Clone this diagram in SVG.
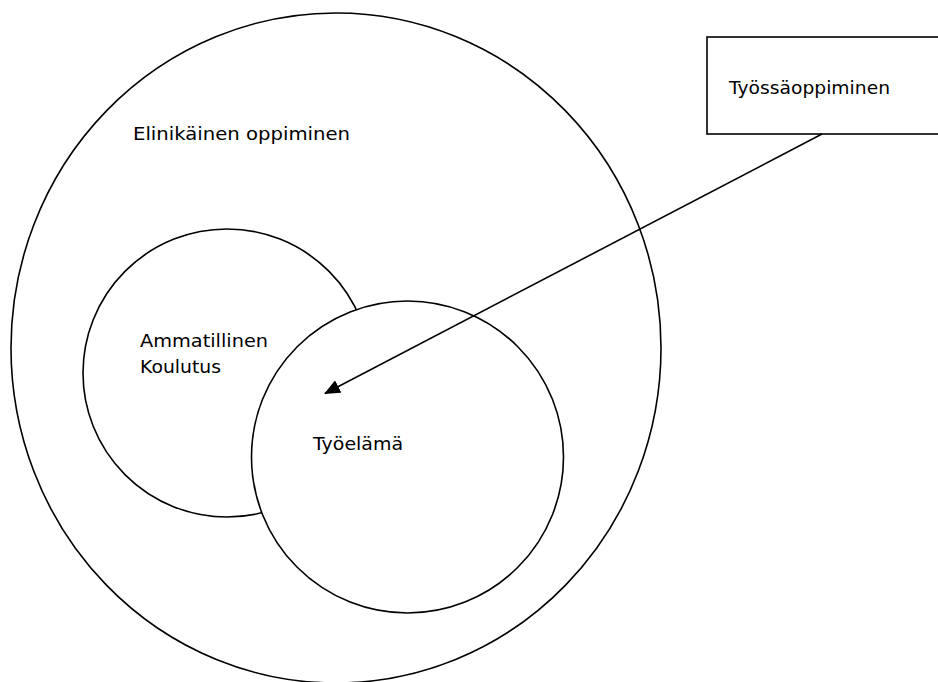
<svg xmlns="http://www.w3.org/2000/svg" width="938" height="682" viewBox="0 0 938 682">
<style>
.shape{fill:#fff;stroke:#000;stroke-width:1.6}
.outer{fill:none;stroke:#000;stroke-width:1.6}
.lbl{font-family:"DejaVu Sans",Verdana,sans-serif;font-size:18px;fill:#000}
.conn{stroke:#000;stroke-width:1.6;fill:none}
</style>
<defs>
<marker id="ah" viewBox="0 0 16 14" refX="15" refY="7" markerWidth="16" markerHeight="14" markerUnits="userSpaceOnUse" orient="auto">
<path d="M0,0 L16,7 L0,14 z" fill="#000"/>
</marker>
</defs>
<rect width="938" height="682" fill="#fff"/>
<g id="elinikainen">
<ellipse class="outer" cx="336" cy="348" rx="325" ry="335"/>
<text class="lbl" x="133" y="140" textLength="217" lengthAdjust="spacingAndGlyphs">Elinikäinen oppiminen</text>
</g>
<g id="ammatillinen">
<circle class="shape" cx="227" cy="373" r="144"/>
<text class="lbl" x="140" y="347" textLength="128" lengthAdjust="spacingAndGlyphs">Ammatillinen</text>
<text class="lbl" x="140" y="373" textLength="81" lengthAdjust="spacingAndGlyphs">Koulutus</text>
</g>
<g id="tyoelama">
<circle class="shape" cx="407.5" cy="457" r="156"/>
<text class="lbl" x="313" y="450" textLength="90" lengthAdjust="spacingAndGlyphs">Työelämä</text>
</g>
<g id="tyossaoppiminen">
<rect class="shape" x="707" y="37" width="240" height="97"/>
<text class="lbl" x="729" y="94" textLength="161" lengthAdjust="spacingAndGlyphs">Työssäoppiminen</text>
</g>
<g id="connectors">
<line class="conn" x1="822" y1="134" x2="325" y2="393.5" marker-end="url(#ah)"/>
</g>
</svg>
